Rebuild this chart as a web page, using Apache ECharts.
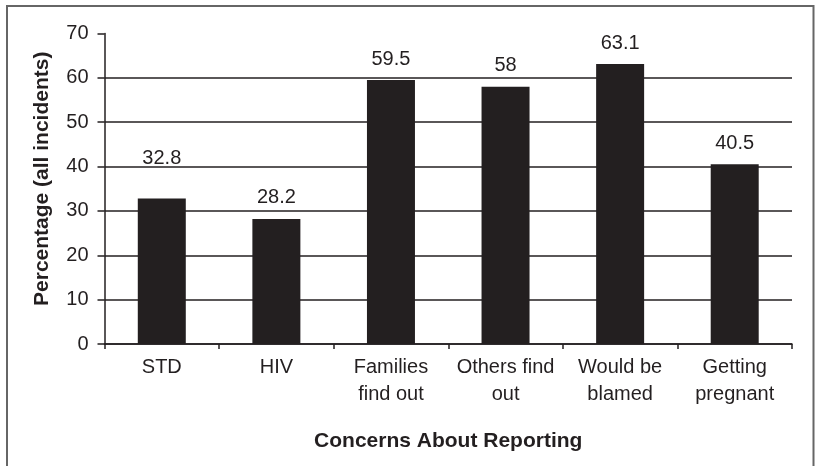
<!DOCTYPE html>
<html>
<head>
<meta charset="utf-8">
<script src="https://cdn.jsdelivr.net/npm/echarts@6/dist/echarts.min.js"></script>
<style>
  html, body { margin: 0; padding: 0; background: #fff; }
  #chart { width: 815px; height: 466px; }
</style>
</head>
<body>
<div id="chart"></div>
<script>
// Reporting concerns, percentage of all incidents
const categories = ['STD', 'HIV', 'Families\nfind out', 'Others find\nout', 'Would be\nblamed', 'Getting\npregnant'];
const percentages = [32.8, 28.2, 59.5, 58, 63.1, 40.5];
const yTicks = [0, 10, 20, 30, 40, 50, 60, 70];

// label gap above each bar (the first label sits higher, clear of the gridline)
const labelGap = [30, 11, 11, 11, 11, 11];

const ink = '#231f20';
const font = '"Liberation Sans", Arial, Helvetica, sans-serif';

const chart = echarts.init(document.getElementById('chart'), null, { renderer: 'canvas' });

chart.setOption({
  animation: false,
  backgroundColor: '#fff',
  textStyle: { fontFamily: font, color: ink },
  graphic: [{
    type: 'polyline',
    shape: { points: [[7, 470], [7, 6], [813.5, 6], [813.5, 470]] },
    style: { stroke: '#666', lineWidth: 2, fill: null },
    silent: true
  }],
  grid: { left: 104.5, right: 23, top: 33.5, bottom: 122, containLabel: false },
  xAxis: {
    type: 'category',
    data: categories,
    name: 'Concerns About Reporting',
    nameLocation: 'middle',
    nameGap: 87,
    nameTextStyle: { fontFamily: font, fontSize: 21, fontWeight: 'bold', color: ink },
    axisLine: { lineStyle: { color: ink, width: 1.5 } },
    axisTick: { show: true, length: 5, alignWithLabel: false, lineStyle: { color: ink, width: 1.5 } },
    axisLabel: { fontFamily: font, fontSize: 20, color: ink, margin: 10, lineHeight: 27, interval: 0 }
  },
  yAxis: {
    type: 'value',
    min: yTicks[0],
    max: yTicks[yTicks.length - 1],
    interval: yTicks[1] - yTicks[0],
    name: 'Percentage (all incidents)',
    nameLocation: 'middle',
    nameGap: 52,
    nameTextStyle: { fontFamily: font, fontSize: 21, fontWeight: 'bold', color: ink, padding: [0, 0, 0, 20] },
    axisLine: { show: true, lineStyle: { color: ink, width: 1.5 } },
    axisTick: { show: true, length: 7, inside: false, lineStyle: { color: ink, width: 1.5 } },
    axisLabel: { fontFamily: font, fontSize: 20, color: ink, margin: 16 },
    splitLine: { show: true, showMaxLine: false, lineStyle: { color: ink, width: 1.5 } }
  },
  series: [{
    type: 'bar',
    barWidth: 48,
    data: percentages.map((v, i) => ({
      value: v,
      label: { distance: labelGap[i] }
    })),
    itemStyle: { color: ink },
    label: {
      show: true,
      position: 'top',
      fontFamily: font,
      fontSize: 20,
      color: ink,
      formatter: p => String(p.value)
    }
  }]
});
</script>
</body>
</html>
